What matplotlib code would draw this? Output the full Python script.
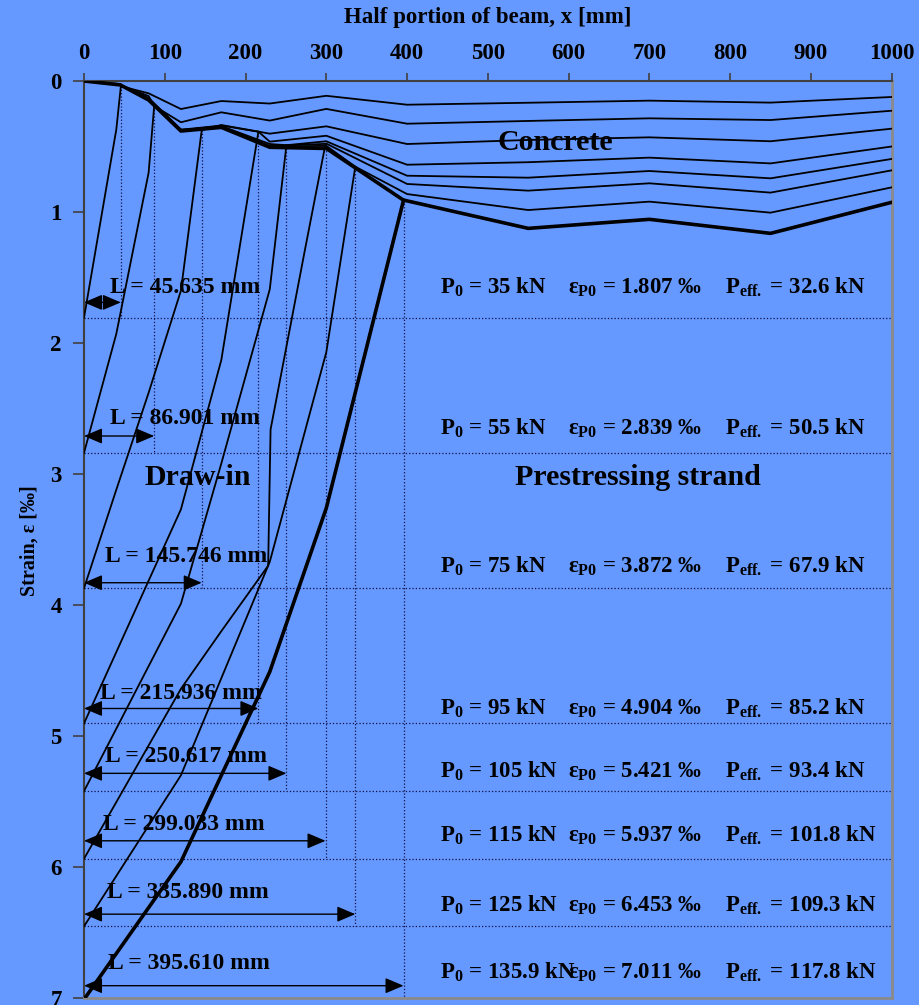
import numpy as np
import matplotlib.pyplot as plt

plt.rcParams['font.family'] = ['Liberation Serif', 'DejaVu Serif']
plt.rcParams['font.weight'] = 'bold'
plt.rcParams['mathtext.fontset'] = 'custom'
plt.rcParams['mathtext.rm'] = 'Liberation Serif:bold'
plt.rcParams['mathtext.it'] = 'Liberation Serif:bold'
plt.rcParams['mathtext.bf'] = 'Liberation Serif:bold'
plt.rcParams['mathtext.default'] = 'bf'

# load cases
P0 = [35, 55, 75, 95, 105, 115, 125, 135.9]
eps_P0 = [1.807, 2.839, 3.872, 4.904, 5.421, 5.937, 6.453, 7.011]
P_eff = [32.6, 50.5, 67.9, 85.2, 93.4, 101.8, 109.3, 117.8]
L_draw = [45.635, 86.901, 145.746, 215.936, 250.617, 299.033, 335.890, 395.610]

# concrete strain along the beam, one row per load case
x_conc = [0, 45, 80, 120, 170, 230, 300, 400, 550, 700, 850, 1000]
conc = [
    [0, 0.023, 0.094, 0.214, 0.153, 0.172, 0.113, 0.181, 0.166, 0.150, 0.165, 0.122],
    [0, 0.030, 0.115, 0.315, 0.239, 0.302, 0.213, 0.326, 0.305, 0.285, 0.298, 0.227],
    [0, 0.030, 0.130, 0.370, 0.336, 0.402, 0.346, 0.481, 0.450, 0.430, 0.460, 0.364],
    [0, 0.030, 0.133, 0.372, 0.340, 0.463, 0.418, 0.639, 0.620, 0.585, 0.629, 0.500],
    [0, 0.030, 0.136, 0.375, 0.344, 0.481, 0.460, 0.723, 0.738, 0.687, 0.743, 0.595],
    [0, 0.030, 0.139, 0.377, 0.347, 0.496, 0.478, 0.786, 0.837, 0.781, 0.852, 0.682],
    [0, 0.030, 0.142, 0.380, 0.350, 0.500, 0.495, 0.863, 0.985, 0.921, 1.005, 0.812],
    [0, 0.030, 0.145, 0.382, 0.354, 0.506, 0.515, 0.915, 1.125, 1.056, 1.163, 0.926],
]

# prestressing strand strain in the draw-in zone
strand_x = [
    [0, 40, 45.635],
    [0, 40, 80, 86.901],
    [0, 40, 80, 120, 145.746],
    [0, 120, 170, 215.936],
    [0, 120, 170, 230, 250.617],
    [0, 120, 170, 228, 231, 273.5, 299.033],
    [0, 120, 230, 300, 335.890],
    [0, 120, 230, 300, 395.610],
]
strand_y = [
    [1.807, 0.37, 0.04],
    [2.839, 1.93, 0.70, 0.19],
    [3.872, 3.12, 2.38, 1.60, 0.375],
    [4.904, 3.27, 2.13, 0.387],
    [5.421, 3.99, 2.92, 1.59, 0.49],
    [5.937, 4.64, 4.20, 3.70, 2.66, 1.29, 0.48],
    [6.453, 5.30, 3.67, 2.07, 0.654],
    [7.011, 5.96, 4.51, 3.26, 0.91],
]

# label layout (strain units)
arrow_y = [1.69, 2.71, 3.83, 4.79, 5.285, 5.80, 6.36, 6.906]
Ltext_x = [32, 32, 26, 20, 26, 23, 28, 30]
Ltext_y = [1.615, 2.62, 3.67, 4.72, 5.20, 5.72, 6.24, 6.78]
Ptext_y = [1.62, 2.70, 3.75, 4.84, 5.32, 5.81, 6.34, 6.85]

BG = '#6699ff'
DOT = '#101048'

fig = plt.figure(figsize=(9.19, 10.05), dpi=100, facecolor=BG)
ax = fig.add_axes([84/919, 1 - 998/1005, (891.7 - 84)/919, (998 - 81)/1005])
ax.set_facecolor(BG)
ax.set_xlim(0, 1000)
ax.set_ylim(7, 0)

n = len(P0)
for i in range(n):
    thick = (i == n - 1)
    lw = 2.6 if thick else 1.3
    # dotted guides
    ax.plot([0, 1000], [eps_P0[i], eps_P0[i]], ls=':', color=DOT, lw=0.9, zorder=1)
    ax.plot([L_draw[i], L_draw[i]], [strand_y[i][-1], eps_P0[i]], ls=':', color=DOT, lw=0.9, zorder=1)
    # concrete curve, passing through the strand end point
    pts = sorted(zip(x_conc + [strand_x[i][-1]], conc[i] + [strand_y[i][-1]]))
    cx, cy = zip(*pts)
    ax.plot(cx, cy, color='black', lw=lw, zorder=3)
    ax.plot(strand_x[i], strand_y[i], color='black', lw=lw, zorder=3)

    # draw-in length arrow and label
    ax.annotate('', xy=(L_draw[i], arrow_y[i]), xytext=(0, arrow_y[i]),
                arrowprops=dict(arrowstyle='<|-|>,head_length=0.4,head_width=0.17',
                                color='black', lw=1.0, mutation_scale=28,
                                shrinkA=0, shrinkB=0), zorder=4)
    ax.text(Ltext_x[i], Ltext_y[i], f'L = {L_draw[i]:.3f} mm', fontsize=17,
            ha='left', va='baseline', zorder=5)

    ax.text(441, Ptext_y[i], f'P$_0$ = {P0[i]:g} kN', fontsize=16.5,
            ha='left', va='baseline', zorder=5)
    ax.text(599, Ptext_y[i], f'ε$_{{P0}}$ = {eps_P0[i]:.3f} ‰', fontsize=16.5,
            ha='left', va='baseline', zorder=5)
    ax.text(793, Ptext_y[i], f'P$_{{eff.}}$ = {P_eff[i]:.1f} kN', fontsize=16.5,
            ha='left', va='baseline', zorder=5)

ax.text(583, 0.466, 'Concrete', fontsize=21.5, ha='center', va='center', zorder=5)
ax.text(141, 3.03, 'Draw-in', fontsize=21.5, ha='center', va='center', zorder=5)
ax.text(686, 3.03, 'Prestressing strand', fontsize=21.5, ha='center', va='center', zorder=5)

# axes styling
ax.xaxis.tick_top()
ax.set_xticks(np.arange(0, 1001, 100))
ax.set_yticks(np.arange(0, 8, 1))
ax.tick_params(axis='x', direction='out', length=6, width=1.2, color='#404040',
               pad=6.5, labelsize=16.5)
ax.tick_params(axis='y', direction='out', length=8, width=1.2, color='#404040',
               pad=8, labelsize=16.5)
for lab in ax.get_xticklabels() + ax.get_yticklabels():
    lab.set_fontweight('bold')
for s in ['top', 'left']:
    ax.spines[s].set_color('#404040')
    ax.spines[s].set_linewidth(1.5)
for s in ['right', 'bottom']:
    ax.spines[s].set_color('#8a8a8a')
    ax.spines[s].set_linewidth(2)

fig.text(487.9/919, 1 - 17/1005, 'Half portion of beam, x [mm]', fontsize=16.5,
         fontweight='bold', ha='center', va='center')
fig.text(30/919, 1 - 541/1005, 'Strain, ε [‰]', fontsize=14.5, fontweight='bold',
         rotation=90, ha='center', va='center')

fig.savefig('out.png', dpi=100, facecolor=BG)
